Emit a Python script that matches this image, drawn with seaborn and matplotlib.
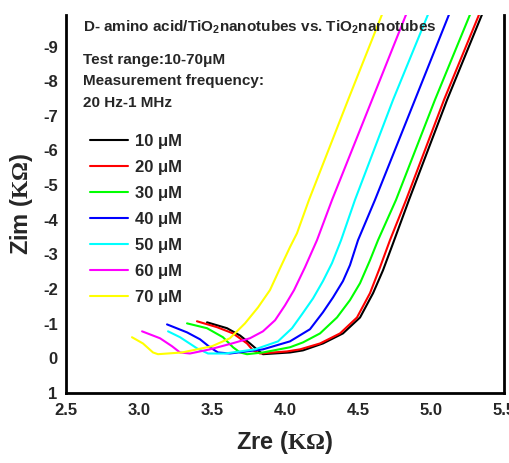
import matplotlib
matplotlib.use("Agg")
import matplotlib.pyplot as plt
import numpy as np
import pandas as pd
import seaborn as sns

# Nyquist plots (Zre vs Zim, kOhm) for each D-amino acid concentration
zre_10 = [3.466, 3.603, 3.692, 3.760, 3.815, 3.849, 4.034, 4.123, 4.260, 4.397, 4.514, 4.603, 4.671, 4.740, 4.849, 5.110, 5.349]
zim_10 = [-1.04, -0.87, -0.66, -0.43, -0.23, -0.12, -0.17, -0.23, -0.43, -0.72, -1.18, -1.88, -2.54, -3.32, -4.57, -7.46, -9.92]

zre_20 = [3.397, 3.534, 3.644, 3.740, 3.781, 3.829, 4.014, 4.103, 4.240, 4.377, 4.493, 4.582, 4.651, 4.719, 4.829, 5.089, 5.329]
zim_20 = [-1.07, -0.90, -0.72, -0.43, -0.23, -0.14, -0.20, -0.26, -0.43, -0.72, -1.18, -1.88, -2.63, -3.41, -4.57, -7.46, -9.92]

zre_30 = [3.329, 3.466, 3.575, 3.644, 3.692, 3.740, 3.849, 4.034, 4.123, 4.240, 4.356, 4.445, 4.514, 4.582, 4.637, 4.760, 5.027, 5.267]
zim_30 = [-1.01, -0.87, -0.61, -0.32, -0.17, -0.12, -0.17, -0.32, -0.46, -0.72, -1.18, -1.68, -2.17, -2.83, -3.41, -4.57, -7.46, -9.92]

zre_40 = [3.192, 3.329, 3.418, 3.486, 3.541, 3.623, 3.849, 4.034, 4.171, 4.260, 4.329, 4.397, 4.445, 4.500, 4.616, 4.890, 5.123]
zim_40 = [-0.98, -0.75, -0.55, -0.32, -0.17, -0.14, -0.26, -0.49, -0.84, -1.33, -1.76, -2.23, -2.69, -3.41, -4.57, -7.46, -9.92]

zre_50 = [3.199, 3.281, 3.397, 3.473, 3.589, 3.795, 3.952, 4.048, 4.116, 4.192, 4.260, 4.322, 4.384, 4.479, 4.740, 4.979]
zim_50 = [-0.78, -0.61, -0.29, -0.14, -0.14, -0.26, -0.49, -0.87, -1.27, -1.73, -2.23, -2.75, -3.41, -4.57, -7.46, -9.92]

zre_60 = [3.021, 3.144, 3.226, 3.281, 3.349, 3.486, 3.637, 3.760, 3.849, 3.932, 4.000, 4.062, 4.137, 4.219, 4.322, 4.596, 4.829]
zim_60 = [-0.78, -0.58, -0.35, -0.17, -0.14, -0.26, -0.43, -0.58, -0.78, -1.10, -1.53, -1.97, -2.63, -3.41, -4.57, -7.46, -9.92]

zre_70 = [2.952, 3.027, 3.096, 3.130, 3.295, 3.500, 3.623, 3.726, 3.815, 3.897, 3.966, 4.034, 4.082, 4.164, 4.432, 4.664]
zim_70 = [-0.61, -0.43, -0.17, -0.12, -0.17, -0.35, -0.58, -1.01, -1.47, -1.97, -2.60, -3.21, -3.61, -4.57, -7.46, -9.92]

labels = ["10 \u03bcM", "20 \u03bcM", "30 \u03bcM", "40 \u03bcM", "50 \u03bcM", "60 \u03bcM", "70 \u03bcM"]
colors = ["#000000", "#ff0000", "#00ff00", "#0000ff", "#00ffff", "#ff00ff", "#ffff00"]

x_ticks = [2.5, 3.0, 3.5, 4.0, 4.5, 5.0, 5.5]
y_ticks = [1, 0, -1, -2, -3, -4, -5, -6, -7, -8, -9]

series_x = [zre_10, zre_20, zre_30, zre_40, zre_50, zre_60, zre_70]
series_y = [zim_10, zim_20, zim_30, zim_40, zim_50, zim_60, zim_70]

frames = []
for lab, xs, ys in zip(labels, series_x, series_y):
    frames.append(pd.DataFrame({"Zre": xs, "Zim": ys, "conc": lab}))
df = pd.concat(frames, ignore_index=True)

sns.set_style("white")
plt.rcParams["font.family"] = ["Liberation Sans", "DejaVu Sans"]
plt.rcParams["font.weight"] = "bold"
plt.rcParams["axes.unicode_minus"] = False
plt.rcParams["mathtext.fontset"] = "custom"
plt.rcParams["mathtext.rm"] = "Liberation Serif:bold"
plt.rcParams["mathtext.sf"] = "Liberation Sans:bold"
plt.rcParams["mathtext.bf"] = "Liberation Sans:bold"

W, H = 510, 463
fig = plt.figure(figsize=(W / 100, H / 100), dpi=100)
ax = fig.add_axes([66 / W, 70 / H, 438 / W, 378 / H])

# each concentration drawn as a connected path in measurement order
for lab, col in zip(labels, colors):
    sub = df[df["conc"] == lab]
    sns.lineplot(data=sub, x="Zre", y="Zim", color=col, estimator=None, sort=False,
                 lw=1.5, ax=ax, label=lab)

ax.set_xlim(2.5, 5.5)
ax.set_ylim(1, -9.91)
ax.set_xticks(x_ticks)
ax.set_xticklabels([f"{v:.1f}" for v in x_ticks])
ax.set_yticks(y_ticks)
ax.set_yticklabels([str(v) for v in y_ticks])
ax.set_xticks(np.arange(2.75, 5.5, 0.5), minor=True)
ax.set_yticks(np.arange(0.5, -9.91, -1.0), minor=True)

for side in ["left", "bottom", "right"]:
    ax.spines[side].set_linewidth(2.0)
    ax.spines[side].set_color("black")
ax.spines["top"].set_visible(False)

ax.tick_params(axis="both", which="major", direction="in", length=5, width=1.6,
               labelsize=12, pad=7)
ax.tick_params(axis="both", which="minor", direction="in", length=3, width=1.4)
ax.tick_params(axis="y", pad=6)
for t in ax.get_xticklabels() + ax.get_yticklabels():
    t.set_fontweight("bold")

ax.set_xlabel(r"Zre ($\mathrm{K\Omega}$)", fontsize=17, fontweight="bold", labelpad=8)
ax.set_ylabel(r"Zim ($\mathrm{K\Omega}$)", fontsize=17, fontweight="bold", labelpad=6)

leg = ax.legend(loc="upper left", bbox_to_anchor=(24 / 438, (378 - 119) / 378),
                frameon=False, fontsize=12, handlelength=2.3, handletextpad=0.4,
                labelspacing=0.66, borderaxespad=0, borderpad=0)
for t in leg.get_texts():
    t.set_fontweight("bold")

txt = dict(fontsize=11, fontweight="bold", va="center", ha="left")
fig.text(83 / W, 1 - 27 / H,
         r"D- amino acid/TiO$_\mathsf{2}$nanotubes vs. TiO$_\mathsf{2}$nanotubes", **txt)
fig.text(83 / W, 1 - 60 / H, "Test range:10-70\u03bcM", **txt)
fig.text(83 / W, 1 - 81 / H, "Measurement frequency:", **txt)
fig.text(83 / W, 1 - 103 / H, "20 Hz-1 MHz", **txt)

fig.savefig("out.png", dpi=100, facecolor="white")
